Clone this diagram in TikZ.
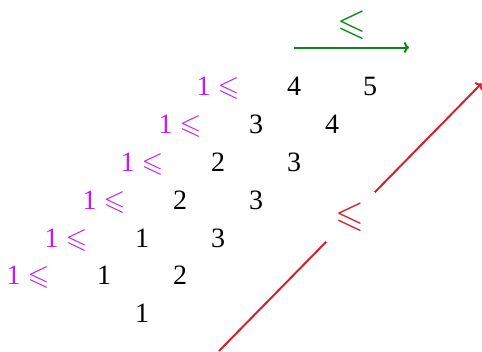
\documentclass[tikz,border=0pt]{standalone}
\usepackage{amssymb}
\usepackage{fontspec}
\setmainfont{Liberation Serif}
\usetikzlibrary{arrows.meta}
\definecolor{gtmag}{RGB}{190,30,235}
\definecolor{gtgreen}{RGB}{10,135,20}
\definecolor{gtred}{RGB}{210,35,45}
\tikzset{
  entry/.style={anchor=base, inner sep=0pt, font=\fontsize{28}{30}\selectfont},
  lead/.style={entry, text=gtmag},
  bigle/.style={inner sep=0pt, font=\fontsize{37}{40}\selectfont},
  conn/.style={line width=2pt, -{To[length=5pt,width=11pt]}},
}
\begin{document}
\begin{tikzpicture}[x=1pt,y=-1pt]
\useasboundingbox (0,0) rectangle (482,351);
% row 1
\node[lead]  (l1) at (218,95) {1 $\leqslant$};
\node[entry] (a12) at (294,95) {4};
\node[entry] (a13) at (370,95) {5};
% row 2
\node[lead]  (l2) at (180,133) {1 $\leqslant$};
\node[entry] (a22) at (256,133) {3};
\node[entry] (a23) at (332,133) {4};
% row 3
\node[lead]  (l3) at (142,171) {1 $\leqslant$};
\node[entry] (a32) at (218,171) {2};
\node[entry] (a33) at (294,171) {3};
% row 4
\node[lead]  (l4) at (104,209) {1 $\leqslant$};
\node[entry] (a42) at (180,209) {2};
\node[entry] (a43) at (256,209) {3};
% row 5
\node[lead]  (l5) at (66,247) {1 $\leqslant$};
\node[entry] (a52) at (142,247) {1};
\node[entry] (a53) at (218,247) {3};
% row 6
\node[lead]  (l6) at (28,284) {1 $\leqslant$};
\node[entry] (a62) at (104,284) {1};
\node[entry] (a63) at (180,284) {2};
% row 7
\node[entry] (a71) at (142,322) {1};
% green arrow
\coordinate (ga) at (294,47.5);
\coordinate (gb) at (409,47.5);
\draw[conn, gtgreen] (ga) -- node[bigle, text=gtgreen, above=6.5pt] (gle) {$\leqslant$} (gb);
% red arrow
\coordinate (ra) at (219,351);
\coordinate (rb) at (481.5,83.5);
\draw[conn, gtred] (ra) -- node[bigle, text=gtred, fill=white, minimum width=49pt, minimum height=50pt] (rle) {$\leqslant$} (rb);
\end{tikzpicture}
\end{document}
